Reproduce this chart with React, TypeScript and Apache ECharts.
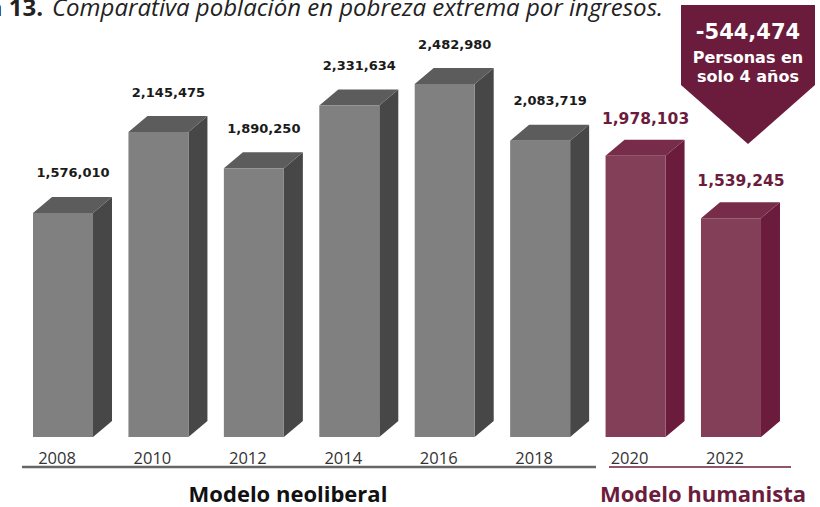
import React, { useEffect, useRef } from "react";
import * as echarts from "echarts";

const years = ["2008", "2010", "2012", "2014", "2016", "2018", "2020", "2022"];
const neoliberalValues: (number | null)[] = [1576010, 2145475, 1890250, 2331634, 2482980, 2083719, null, null];
const humanistaValues: (number | null)[] = [null, null, null, null, null, null, 1978103, 1539245];
const calloutLines = ["-544,474", "Personas en", "solo 4 años"];
const titleBold = "Gráfica 13.";
const titleItalic = "Comparativa población en pobreza extrema por ingresos.";
const groupLabels = ["Modelo neoliberal", "Modelo humanista"];

const MAROON = "#6b1c3c";
const NUM_FONT = "'DejaVu Sans', sans-serif";

function makeRender(colors: { front: string; side: string; top: string; label: string; size: number; gap: number }) {
  return (params: any, api: any) => {
    const idx = api.value(0);
    const val = api.value(1);
    const topPt = api.coord([idx, val]);
    const botPt = api.coord([idx, 0]);
    const cx = topPt[0];
    const top = topPt[1];
    const bot = botPt[1];
    const fl = cx - 24;
    const fr = cx + 36;
    const dx = 19;
    const dy = 16;
    return {
      type: "group",
      children: [
        {
          type: "polygon",
          shape: { points: [[fr, top], [fr + dx, top - dy], [fr + dx, bot - dy], [fr, bot]] },
          style: { fill: colors.side },
        },
        {
          type: "polygon",
          shape: { points: [[fl, top], [fl + dx, top - dy], [fr + dx, top - dy], [fr, top]] },
          style: { fill: colors.top },
        },
        {
          type: "rect",
          shape: { x: fl, y: top, width: fr - fl, height: bot - top },
          style: { fill: colors.front },
        },
        {
          type: "text",
          style: {
            text: api.value(2),
            x: cx + 16,
            y: top - dy - colors.gap,
            align: "center",
            verticalAlign: "middle",
            fill: colors.label,
            font: `bold ${colors.size}px ${NUM_FONT}`,
          },
        },
      ],
    };
  };
}

function toData(values: (number | null)[]) {
  const out: any[] = [];
  values.forEach((v, i) => {
    if (v !== null) out.push([i, v, v.toLocaleString("en-US")]);
  });
  return out;
}

export default function App() {
  const ref = useRef<HTMLDivElement>(null);
  useEffect(() => {
    if (!ref.current) return;
    const chart = echarts.init(ref.current, undefined, { renderer: "svg" });
    chart.setOption({
      animation: false,
      grid: { left: 9.3, right: 47.3, top: 10.6, bottom: 70 },
      xAxis: {
        type: "category",
        data: years,
        axisLine: { show: false },
        axisTick: { show: false },
        axisLabel: { color: "#333", fontSize: 16.5, fontFamily: "'Open Sans', sans-serif", margin: 12 },
      },
      yAxis: { type: "value", min: 0, max: 3000000, show: false, splitLine: { show: false } },
      series: [
        {
          type: "custom",
          data: toData(neoliberalValues),
          encode: { x: 0, y: 1 },
          renderItem: makeRender({ front: "#808080", side: "#474747", top: "#5c5c5c", label: "#1a1a1a", size: 13, gap: 24 }),
        },
        {
          type: "custom",
          data: toData(humanistaValues),
          encode: { x: 0, y: 1 },
          renderItem: makeRender({ front: "#843f58", side: "#6b1c3c", top: "#772c49", label: MAROON, size: 15.5, gap: 21 }),
        },
      ],
      graphic: [
        {
          type: "text",
          style: { text: titleBold, x: 43, y: 6, align: "right", verticalAlign: "middle", fill: "#222", font: "bold 24px 'Open Sans', sans-serif" },
        },
        {
          type: "text",
          style: { text: titleItalic, x: 52, y: 6, align: "left", verticalAlign: "middle", fill: "#222", font: "italic 24px 'Open Sans', sans-serif" },
        },
        {
          type: "polygon",
          shape: { points: [[681, 5], [815, 5], [815, 85], [748, 144], [681, 85]] },
          style: { fill: MAROON },
        },
        {
          type: "text",
          style: { text: calloutLines[0], x: 748, y: 32, align: "center", verticalAlign: "middle", fill: "#fff", font: `bold 21px ${NUM_FONT}` },
        },
        {
          type: "text",
          style: { text: calloutLines[1], x: 748, y: 57, align: "center", verticalAlign: "middle", fill: "#fff", font: `bold 16px ${NUM_FONT}` },
        },
        {
          type: "text",
          style: { text: calloutLines[2], x: 748, y: 76, align: "center", verticalAlign: "middle", fill: "#fff", font: `bold 16px ${NUM_FONT}` },
        },
        {
          type: "line",
          shape: { x1: 22, y1: 467, x2: 596, y2: 467 },
          style: { stroke: "#666", lineWidth: 2.5 },
        },
        {
          type: "line",
          shape: { x1: 609, y1: 467, x2: 791, y2: 467 },
          style: { stroke: MAROON, lineWidth: 1.5 },
        },
        {
          type: "text",
          style: { text: groupLabels[0], x: 288, y: 493, align: "center", verticalAlign: "middle", fill: "#111", font: "bold 22px 'Open Sans', sans-serif" },
        },
        {
          type: "text",
          style: { text: groupLabels[1], x: 703, y: 493, align: "center", verticalAlign: "middle", fill: MAROON, font: "bold 22px 'Open Sans', sans-serif" },
        },
      ],
    });
    return () => chart.dispose();
  }, []);
  return <div ref={ref} style={{ position: "fixed", left: 0, top: 0, width: 820, height: 507, background: "#fff" }} />;
}
